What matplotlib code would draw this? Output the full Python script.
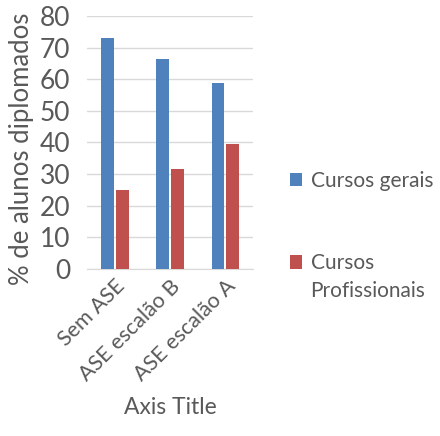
import matplotlib
matplotlib.use('Agg')
import matplotlib.pyplot as plt
import numpy as np

categories = ['Sem ASE', 'ASE escalão B', 'ASE escalão A']
gerais = [73, 66.5, 58.7]
profissionais = [25, 31.6, 39.6]
series_names = ['Cursos gerais', 'Cursos', 'Profissionais']
yticks = [0, 10, 20, 30, 40, 50, 60, 70, 80]


def main():
    plt.rcParams['font.family'] = ['Lato', 'DejaVu Sans']
    grey = '#595959'

    fig = plt.figure(figsize=(4.4, 4.36), dpi=100)
    ax = fig.add_axes([87 / 440, 1 - 269 / 436, 166 / 440, 253 / 436])

    x = np.arange(len(categories))
    w = 0.23
    b1 = ax.bar(x - 0.135, gerais, w, color='#4f81bd', label=series_names[0], zorder=3)
    b2 = ax.bar(x + 0.135, profissionais, w, color='#c0504d', label=series_names[1], zorder=3)

    ax.set_xlim(-0.5, len(categories) - 0.5)
    ax.set_ylim(0, 80)
    ax.set_yticks(yticks)
    ax.set_xticks(x)
    ax.set_xticklabels(categories, rotation=45, ha='right', rotation_mode='anchor',
                       fontsize=15.5, color=grey)
    ax.tick_params(axis='y', labelsize=19, colors=grey, length=0, pad=12)
    ax.tick_params(axis='x', length=0, pad=5)
    ax.grid(axis='y', color='#d9d9d9', linewidth=1, zorder=0)
    for s in ['top', 'right', 'left']:
        ax.spines[s].set_visible(False)
    ax.spines['bottom'].set_color('#d9d9d9')

    ax.set_ylabel('% de alunos diplomados', fontsize=18.5, color=grey)
    ax.yaxis.set_label_coords(-0.32, 0.475)
    ax.set_xlabel('Axis Title', fontsize=16.5, color=grey, labelpad=9)

    leg = fig.legend(handles=[b1, b2], loc='upper left', bbox_to_anchor=(271 / 440, 1 - 152 / 436),
                     frameon=False, fontsize=15, labelcolor=grey, handlelength=0.6,
                     handleheight=0.6, handletextpad=0.4, labelspacing=3.0)

    # second line of the red entry, under "Cursos"
    fig.canvas.draw()
    bb = leg.get_texts()[1].get_window_extent().transformed(fig.transFigure.inverted())
    fig.text(bb.x0, bb.y0 - 0.063, series_names[2], fontsize=15, color=grey,
             ha='left', va='bottom')

    plt.savefig('out.png', dpi=100)


if __name__ == '__main__':
    main()
